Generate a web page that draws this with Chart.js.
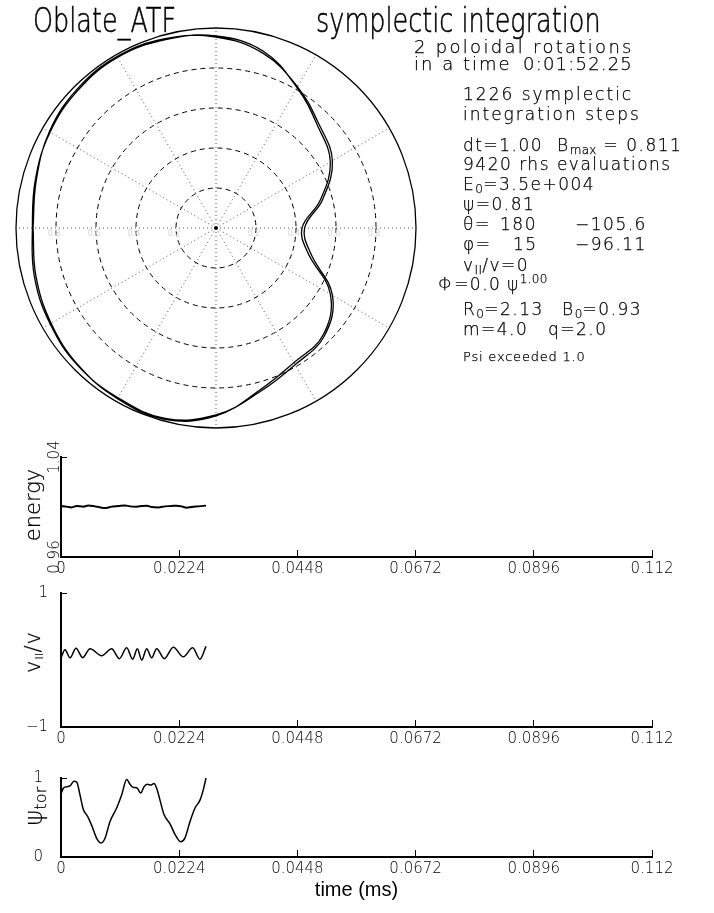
<!DOCTYPE html>
<html>
<head>
<meta charset="utf-8">
<script src="https://cdn.jsdelivr.net/npm/chart.js@4.4.1/dist/chart.umd.min.js"></script>
<style>
  html, body { margin: 0; padding: 0; background: #fff; }
  #page { position: relative; width: 714px; height: 913px; overflow: hidden;
          font-family: 'DejaVu Sans', sans-serif; font-weight: 200; color: #000; }
  canvas { position: absolute; left: 0; }
  .t { position: absolute; line-height: 1; white-space: nowrap; -webkit-text-stroke: 0.25px #000; }
  .big { font-size: 25.5px; transform: scaleY(1.35); transform-origin: 0 0; -webkit-text-stroke: 0.4px #000; }
  .hd { font-size: 18px; letter-spacing: 1.2px; }
  .b { font-size: 17px; letter-spacing: 1.5px; }
  .sm { font-size: 13px; letter-spacing: 0.8px; }
  .s { font-size: 12px; line-height: 0; vertical-align: -3px; letter-spacing: 0.3px; }
  .u { font-size: 12px; line-height: 0; vertical-align: 7px; letter-spacing: 0.3px; }
  .rot { position: absolute; transform: translate(-50%, -50%) rotate(-90deg); white-space: nowrap; line-height: 1; -webkit-text-stroke: 0.25px #000; }
</style>
</head>
<body>
<div id="page">
  <canvas id="polar" width="432" height="440" style="top:0px"></canvas>
  <canvas id="energy" width="714" height="150" style="top:430px"></canvas>
  <canvas id="vpar" width="714" height="190" style="top:565px"></canvas>
  <canvas id="psi" width="714" height="168" style="top:745px"></canvas>

  <div class="t big" style="left:33px;top:4px">Oblate_ATF</div>
  <div class="t big" style="left:316px;top:4px">symplectic integration</div>

  <div class="t hd" style="left:414px;top:38px;letter-spacing:2.3px">2 poloidal rotations</div>
  <div class="t hd" style="left:414px;top:55px;letter-spacing:2px">in a time</div>
  <div class="t hd" style="left:523px;top:55px">0:01:52.25</div>

  <div class="t b" style="left:463px;top:86px;letter-spacing:2px">1226 symplectic</div>
  <div class="t b" style="left:463px;top:106px;letter-spacing:2px">integration steps</div>
  <div class="t b" style="left:463px;top:137px">dt=1.00</div>
  <div class="t b" style="left:557px;top:137px">B<span class="s">max</span> = 0.811</div>
  <div class="t b" style="left:463px;top:156px">9420 rhs evaluations</div>
  <div class="t b" style="left:463px;top:176px">E<span class="s">0</span>=3.5e+004</div>
  <div class="t b" style="left:463px;top:196px">ψ=0.81</div>
  <div class="t b" style="left:463px;top:216px">θ=</div>
  <div class="t b" style="left:500px;top:216px">180</div>
  <div class="t b" style="left:575px;top:216px">−105.6</div>
  <div class="t b" style="left:463px;top:236px">φ=</div>
  <div class="t b" style="left:513px;top:236px">15</div>
  <div class="t b" style="left:575px;top:236px">−96.11</div>
  <div class="t b" style="left:463px;top:257px">v<span class="s">II</span>/v=0</div>
  <div class="t b" style="left:438px;top:276px">Φ=0.0</div>
  <div class="t b" style="left:507px;top:276px">ψ<span class="u">1.00</span></div>
  <div class="t b" style="left:463px;top:301px">R<span class="s">0</span>=2.13</div>
  <div class="t b" style="left:562px;top:301px">B<span class="s">0</span>=0.93</div>
  <div class="t b" style="left:463px;top:321px">m=4.0</div>
  <div class="t b" style="left:548px;top:321px">q=2.0</div>
  <div class="t sm" style="left:463px;top:350px">Psi exceeded 1.0</div>

  <div class="rot" style="left:33px;top:505px;font-size:21px">energy</div>
  <div class="rot" style="left:33px;top:652px;font-size:21px;letter-spacing:1px">v<span class="s" style="font-size:11px">II</span>/v</div>
  <div class="rot" style="left:34px;top:806px;font-size:24px">ψ<span class="s" style="font-size:16px;vertical-align:-4px">tor</span></div>
</div>

<script>
// poloidal cross-section: orbit (angle in degrees, radius in units of the boundary)
const orbitThetaDeg = [180, 195, 210, 225, 240, 255, 270, 285, 300, 315, 330, 345, 0, 15, 30, 45, 60, 75, 90, 105, 120, 135, 150, 165];
const orbitRadiusTurn1 = [0.915, 0.932, 0.952, 0.972, 0.985, 0.99, 0.94, 0.84, 0.778, 0.757, 0.66, 0.475, 0.43, 0.54, 0.66, 0.72, 0.81, 0.915, 0.96, 0.975, 0.985, 0.975, 0.958, 0.935];
const orbitRadiusTurn2 = [0.918, 0.94, 0.958, 0.975, 0.98, 0.985, 0.935, 0.848, 0.79, 0.765, 0.672, 0.49, 0.443, 0.552, 0.672, 0.73, 0.815, 0.905, 0.955, 0.98, 0.99, 0.982, 0.962, 0.93];
const ringRadii = [0.2, 0.4, 0.6, 0.8];
const spokeAngles = [0, 30, 60, 90, 120, 150, 180, 210, 240, 270, 300, 330];

// time traces
const xTickValues = [0, 0.0224, 0.0448, 0.0672, 0.0896, 0.112];
const xTickLabels = ['0', '0.0224', '0.0448', '0.0672', '0.0896', '0.112'];

const energyTime = [0, 0.00107, 0.00202, 0.00297, 0.00423, 0.00518, 0.00644, 0.00739, 0.00853, 0.0096, 0.01087, 0.01213, 0.01308, 0.01434, 0.01529, 0.01624, 0.01718, 0.01845, 0.01971, 0.02097, 0.02192, 0.02287, 0.02382, 0.02476, 0.02603, 0.02748];
const energyValue = [1.0008, 1.0003, 0.9997, 1.0008, 1.0003, 1.0013, 1.0005, 0.9997, 0.9992, 1.0003, 1.0008, 1.0013, 1.0005, 1.0003, 1.0008, 1.0011, 1.0, 0.9997, 1.0005, 1.0008, 1.0011, 1.0005, 0.9995, 1.0, 1.0005, 1.0011];

const vparTime = [0, 0.00076, 0.00171, 0.00284, 0.00411, 0.0055, 0.00771, 0.0096, 0.01106, 0.01245, 0.01358, 0.01447, 0.01529, 0.01624, 0.01718, 0.01813, 0.01958, 0.02129, 0.02318, 0.02495, 0.02634, 0.02748];
const vparValue = [0.034, 0.154, 0.034, 0.177, 0.034, 0.168, 0.065, 0.168, 0.02, 0.181, 0.011, 0.168, -0.002, 0.168, 0.034, 0.168, 0.02, 0.19, 0.047, 0.181, 0.011, 0.204];

const psiTime = [0, 0.00044, 0.00107, 0.0017, 0.00246, 0.00297, 0.0036, 0.00423, 0.00499, 0.00581, 0.00676, 0.00758, 0.00834, 0.00929, 0.01055, 0.0115, 0.01245, 0.01308, 0.0137, 0.01435, 0.0151, 0.01573, 0.01636, 0.017, 0.01762, 0.01813, 0.01876, 0.01952, 0.02066, 0.0216, 0.02268, 0.0235, 0.02445, 0.0254, 0.02634, 0.02697, 0.02748];
const psiValue = [0.8, 0.87, 0.89, 0.9, 0.96, 0.95, 0.787, 0.6, 0.52, 0.4, 0.237, 0.177, 0.237, 0.45, 0.62, 0.787, 0.98, 0.92, 0.88, 0.877, 0.81, 0.89, 0.92, 0.91, 0.93, 0.87, 0.72, 0.537, 0.42, 0.287, 0.193, 0.243, 0.45, 0.62, 0.72, 0.853, 1.0];

const energyTicks = [0.96, 1.04];
const energyTickLabels = ['0.96', '1.04'];
const vparTicks = [-1, 1];
const vparTickLabels = ['−1', '1'];
const psiTicks = [0, 1];
const psiTickLabels = ['0', '1'];

Chart.defaults.font.family = "'DejaVu Sans', sans-serif";
Chart.defaults.font.weight = '200';
Chart.defaults.color = '#000';

function toXY(thetaDeg, r) {
  const a = thetaDeg * Math.PI / 180;
  return { x: r * Math.cos(a), y: r * Math.sin(a) };
}

const orbitPoints = [
  ...orbitThetaDeg.map((t, i) => toXY(t, orbitRadiusTurn1[i])),
  ...orbitThetaDeg.map((t, i) => toXY(t, orbitRadiusTurn2[i])),
  toXY(orbitThetaDeg[0], orbitRadiusTurn1[0])
];

const polarGrid = {
  id: 'polarGrid',
  beforeDatasetsDraw(chart) {
    const { ctx, scales: { x, y } } = chart;
    const cx = x.getPixelForValue(0), cy = y.getPixelForValue(0);
    const R = x.getPixelForValue(1) - cx;
    ctx.save();
    ctx.lineWidth = 1;
    ctx.strokeStyle = '#555';
    ctx.setLineDash([1, 3]);
    spokeAngles.forEach(a => {
      const t = a * Math.PI / 180;
      ctx.beginPath();
      ctx.moveTo(cx, cy);
      ctx.lineTo(cx + R * Math.cos(t), cy - R * Math.sin(t));
      ctx.stroke();
    });
    ctx.strokeStyle = '#000';
    ctx.setLineDash([5, 4]);
    ringRadii.forEach(r => {
      ctx.beginPath();
      ctx.arc(cx, cy, x.getPixelForValue(r) - cx, 0, 2 * Math.PI);
      ctx.stroke();
    });
    ctx.setLineDash([]);
    ctx.lineWidth = 1.3;
    ctx.beginPath();
    ctx.arc(cx, cy, R, 0, 2 * Math.PI);
    ctx.stroke();
    ctx.fillStyle = '#d4d4d4';
    ctx.font = "8px 'DejaVu Sans'";
    ctx.textAlign = 'center';
    ctx.textBaseline = 'middle';
    ringRadii.forEach(r => {
      const d = x.getPixelForValue(r) - cx;
      ctx.fillText(r.toFixed(1), cx - d - 2, cy + 6);
      ctx.fillText(r.toFixed(1), cx + d - 2, cy + 6);
    });
    ctx.restore();
  }
};

new Chart(document.getElementById('polar'), {
  type: 'scatter',
  data: {
    datasets: [
      { data: orbitPoints, showLine: true, tension: 0.4, borderColor: '#000', borderWidth: 1.3, pointRadius: 0 },
      { data: [{ x: 0, y: 0 }], pointRadius: 2, backgroundColor: '#000', borderWidth: 0 }
    ]
  },
  options: {
    responsive: false, animation: false, events: [],
    layout: { autoPadding: false, padding: { left: 16, right: 16, top: 28, bottom: 12 } },
    plugins: { legend: { display: false }, tooltip: { enabled: false } },
    scales: {
      x: { type: 'linear', min: -1, max: 1, display: false },
      y: { type: 'linear', min: -1, max: 1, display: false }
    }
  },
  plugins: [polarGrid]
});

function panel(id, time, values, cfg) {
  return new Chart(document.getElementById(id), {
    type: 'line',
    data: {
      datasets: [{
        data: time.map((t, i) => ({ x: t, y: values[i] })),
        borderColor: '#000', borderWidth: cfg.lineWidth, pointRadius: 0,
        cubicInterpolationMode: 'monotone', fill: false
      }]
    },
    options: {
      responsive: false, animation: false, events: [],
      layout: { autoPadding: false, padding: { left: 0, right: 62, top: cfg.top, bottom: 0 } },
      plugins: { legend: { display: false }, tooltip: { enabled: false } },
      scales: {
        x: {
          type: 'linear', min: 0, max: 0.112,
          afterBuildTicks: s => { s.ticks = xTickValues.map(v => ({ value: v })); },
          afterFit: s => { s.height = cfg.xHeight; },
          ticks: { callback: (v, i) => xTickLabels[i], font: { size: 15 }, padding: 10, maxRotation: 0, autoSkip: false },
          grid: { drawOnChartArea: false, tickLength: -7, color: '#000', tickWidth: 1 },
          border: { color: '#000', width: 2 },
          title: cfg.xTitle ? { display: true, text: cfg.xTitle, font: { family: "'Liberation Sans', sans-serif", size: 20, weight: '400' }, padding: 11 } : { display: false }
        },
        y: {
          type: 'linear', min: cfg.yTicks[0], max: cfg.yTicks[1],
          afterBuildTicks: s => { s.ticks = cfg.yTicks.map(v => ({ value: v })); },
          afterFit: s => { s.width = 61; },
          ticks: Object.assign({ callback: (v, i) => cfg.yLabels[i], font: { size: 15 }, autoSkip: false }, cfg.yTickOpts),
          grid: { drawOnChartArea: false, tickLength: -6, color: '#000', tickWidth: 1 },
          border: { color: '#000', width: 2 }
        }
      }
    }
  });
}

panel('energy', energyTime, energyValue, {
  top: 27, xHeight: 23, lineWidth: 2,
  yTicks: energyTicks, yLabels: energyTickLabels,
  yTickOpts: { minRotation: 90, maxRotation: 90, crossAlign: 'center', padding: -4.5 }
});
panel('vpar', vparTime, vparValue, {
  top: 13, xHeight: 28, lineWidth: 1.5,
  yTicks: vparTicks, yLabels: vparTickLabels,
  yTickOpts: { padding: 19 }
});
panel('psi', psiTime, psiValue, {
  top: 12, xHeight: 56, lineWidth: 1.5, xTitle: 'time (ms)',
  yTicks: psiTicks, yLabels: psiTickLabels,
  yTickOpts: { padding: 24 }
});
</script>
</body>
</html>
